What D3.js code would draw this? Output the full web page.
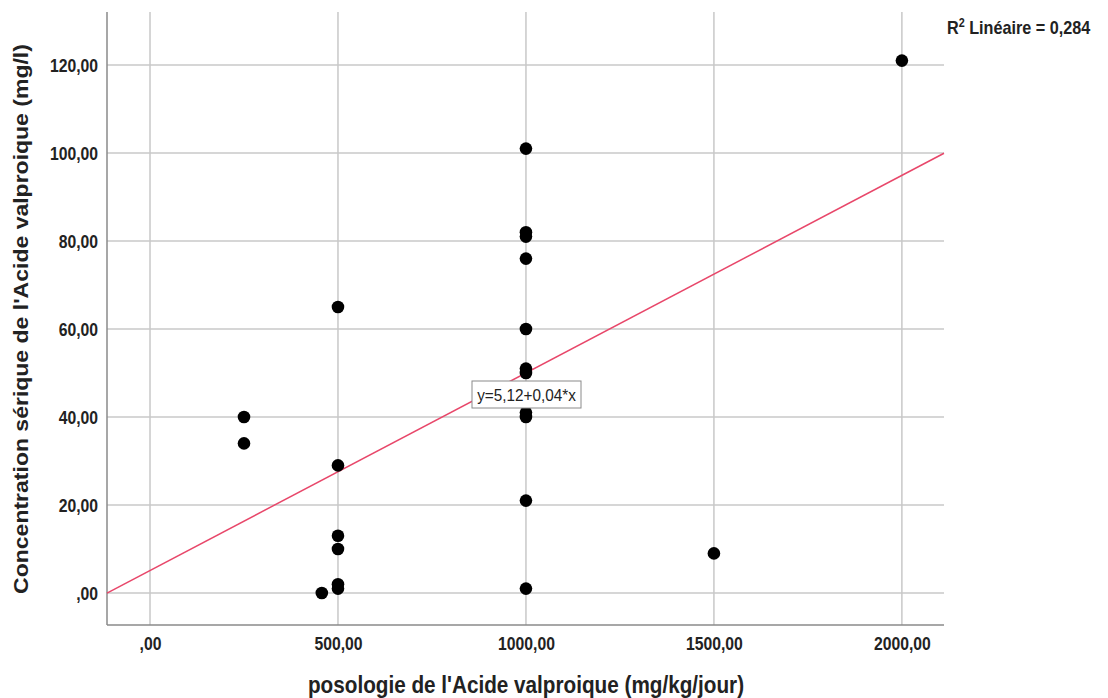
<!DOCTYPE html>
<html>
<head>
<meta charset="utf-8">
<script src="https://cdn.jsdelivr.net/npm/d3@7"></script>
<style>
  html, body { margin: 0; padding: 0; background: #fff; }
  svg { display: block; font-family: "Liberation Sans", Arial, sans-serif; }
</style>
</head>
<body>
<svg id="chart" width="1108" height="698"></svg>
<script>
// Posologie (mg/kg/jour) and serum concentration (mg/l) per patient
const dose = [250, 250, 457, 500, 500, 500, 500, 500, 500, 1000, 1000, 1000, 1000, 1000, 1000, 1000, 1000, 1000, 1000, 1000, 1500, 2000];
const conc = [40, 34, 0, 1, 2, 10, 13, 29, 65, 1, 21, 40, 41, 50, 51, 60, 76, 81, 82, 101, 9, 121];

const xTicks = [0, 500, 1000, 1500, 2000];
const yTicks = [0, 20, 40, 60, 80, 100, 120];

// Linear fit
const intercept = 5.12;
const slope = 0.0449;
const eqLabel = "y=5,12+0,04*x";
const r2Label = "0,284";

const svg = d3.select("#chart");
const plotLeft = 107, plotRight = 944, plotTop = 12, plotBottom = 625;
const squeeze = 0.9; // text is set slightly narrow

const x = d3.scaleLinear().domain([-114.4, 2112]).range([plotLeft, plotRight]);
const y = d3.scaleLinear().domain([-7.27, 132.05]).range([plotBottom, plotTop]);

const fmt = v => (v === 0 ? "" : d3.format("d")(v)) + ",00";

// grid
svg.append("g").selectAll("line").data(yTicks).join("line")
  .attr("x1", plotLeft).attr("x2", plotRight)
  .attr("y1", d => y(d)).attr("y2", d => y(d))
  .attr("stroke", "#d6d6d6").attr("stroke-width", 2);
svg.append("g").selectAll("line").data(xTicks).join("line")
  .attr("x1", d => x(d)).attr("x2", d => x(d))
  .attr("y1", plotTop).attr("y2", plotBottom)
  .attr("stroke", "#c8c8c8").attr("stroke-width", 1.5);

// axes
const yAxis = d3.axisLeft(y).tickValues(yTicks).tickFormat(fmt).tickSize(0);
const gy = svg.append("g").attr("transform", `translate(${plotLeft},0)`).call(yAxis);
const xAxis = d3.axisBottom(x).tickValues(xTicks).tickFormat(fmt).tickSize(0);
const gx = svg.append("g").attr("transform", `translate(0,${plotBottom})`).call(xAxis);
[gx, gy].forEach(g => {
  g.select(".domain").remove();
  g.selectAll("text").attr("font-family", "'Liberation Sans', Arial, sans-serif")
    .attr("font-size", 17.5).attr("font-weight", "bold").attr("fill", "#222")
    .attr("transform", `scale(${squeeze},1)`);
});
gy.selectAll("text").attr("x", -9 / squeeze).attr("dy", "0.36em");
gx.selectAll("text").attr("y", 25).attr("dy", 0);

svg.append("line").attr("x1", plotLeft).attr("x2", plotLeft).attr("y1", plotTop).attr("y2", plotBottom)
  .attr("stroke", "#8a8a8a").attr("stroke-width", 1.5);
svg.append("line").attr("x1", plotLeft).attr("x2", plotRight).attr("y1", plotBottom).attr("y2", plotBottom)
  .attr("stroke", "#8a8a8a").attr("stroke-width", 1.5);

// regression line
const xd = x.domain();
svg.append("line")
  .attr("x1", x(xd[0])).attr("y1", y(intercept + slope * xd[0]))
  .attr("x2", x(xd[1])).attr("y2", y(intercept + slope * xd[1]))
  .attr("stroke", "#e8476a").attr("stroke-width", 1.5);

// points
svg.append("g").selectAll("circle").data(dose.map((d, i) => [d, conc[i]])).join("circle")
  .attr("cx", d => x(d[0])).attr("cy", d => y(d[1])).attr("r", 6.3)
  .attr("fill", "#000");

// equation box
const eq = svg.append("g");
eq.append("rect").attr("x", 472).attr("y", 381).attr("width", 109).attr("height", 27)
  .attr("fill", "#fff").attr("stroke", "#8a8a8a").attr("stroke-width", 1);
eq.append("text").attr("transform", `translate(526.5,401) scale(${squeeze},1)`)
  .attr("text-anchor", "middle")
  .attr("font-size", 17).attr("fill", "#222").text(eqLabel);

// R² label
const r2 = svg.append("text").attr("transform", `translate(947,34) scale(${squeeze},1)`)
  .attr("font-size", 18).attr("font-weight", "bold").attr("fill", "#222");
r2.append("tspan").text("R");
r2.append("tspan").attr("dy", -7).attr("font-size", 12).text("2");
r2.append("tspan").attr("dy", 7).text(" Linéaire = " + r2Label);

// axis titles
svg.append("text").attr("transform", `translate(526,693) scale(${squeeze},1)`)
  .attr("text-anchor", "middle").attr("font-weight", "bold")
  .attr("font-size", 23).attr("fill", "#222").text("posologie de l'Acide valproique (mg/kg/jour)");
svg.append("text").attr("transform", `translate(28,319) scale(${squeeze},1) rotate(-90)`)
  .attr("text-anchor", "middle").attr("font-weight", "bold")
  .attr("font-size", 23).attr("fill", "#222").text("Concentration sérique de l'Acide valproique (mg/l)");
</script>
</body>
</html>
